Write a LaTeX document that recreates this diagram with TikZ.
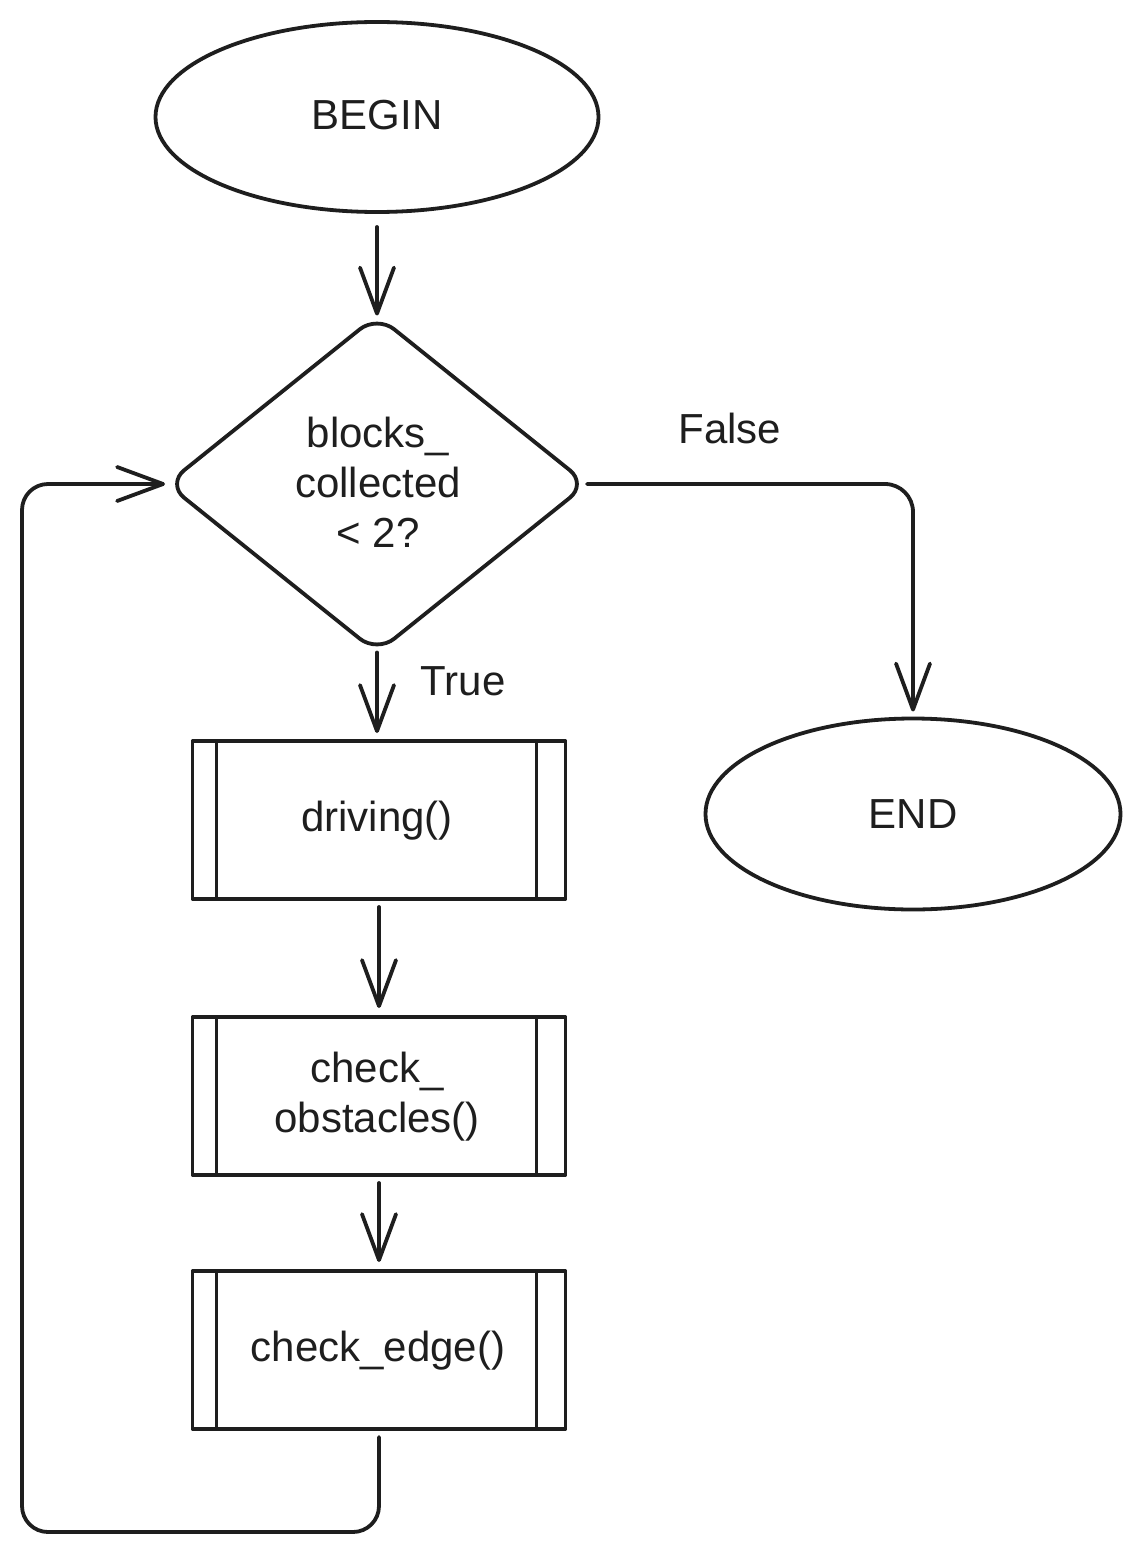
\documentclass[tikz,border=0pt]{standalone}
\usepackage{fontspec}
\setmainfont{Liberation Sans}
\usetikzlibrary{shapes.geometric,arrows.meta}
\definecolor{ink}{HTML}{1E1E1E}
\begin{document}
\begin{tikzpicture}[x=1pt,y=-1pt,
  stroke/.style={draw=ink, line width=3.8pt, line cap=round, line join=round},
  terminal/.style={stroke, ellipse, inner sep=0pt, outer sep=0pt},
  decision/.style={stroke, diamond, rounded corners=22pt, minimum width=420pt,
    minimum height=337pt, inner sep=0pt, outer sep=0pt},
  subproc/.style={stroke, rectangle, minimum width=373pt, minimum height=158pt,
    inner sep=0pt, outer sep=0pt,
    path picture={\draw[ink, line width=3.4pt]
      ([xshift=24pt]path picture bounding box.north west) --
      ([xshift=24pt]path picture bounding box.south west)
      ([xshift=-29pt]path picture bounding box.north east) --
      ([xshift=-29pt]path picture bounding box.south east);}},
  txt/.style={text=ink, font=\fontsize{42}{50}\selectfont, anchor=base, inner sep=0pt},
  flow/.style={stroke, -{Straight Barb[length=46pt,width=34pt,round]}},
]
% canvas
\useasboundingbox[fill=white] (0,0) rectangle (1140,1554);

% shapes
\node[terminal, minimum width=443pt, minimum height=190pt] (begin) at (377,117) {};
\node[decision] (cond) at (377,484) {};
\node[subproc] (drive) at (379,820) {};
\node[subproc] (obst) at (379,1096) {};
\node[subproc] (edge) at (379,1350) {};
\node[terminal, minimum width=415pt, minimum height=191pt] (end) at (913,814) {};

% texts
\node[txt] (begin-t) at (377,130) {BEGIN};
\node[txt] (cond-t) at (378,447)
  {\begin{tabular}[t]{@{}c@{}}blocks\_\\collected\\< 2?\end{tabular}};
\node[txt] (drive-t) at (377,831) {driving()};
\node[txt] (obst-t) at (377,1082)
  {\begin{tabular}[t]{@{}c@{}}check\_\\obstacles()\end{tabular}};
\node[txt] (edge-t) at (378,1361) {check\_edge()};
\node[txt] (end-t) at (913,828) {END};
\node[txt] (false-t) at (730,443) {False};
\node[txt] (true-t) at (463,695) {True};

% connectors
\coordinate (loopbl) at (22,1532);
\draw[flow, shorten <=15pt] (begin.south) -- (cond.north);
\draw[flow, shorten >=8pt] (cond.south) -- (cond.south |- drive.north);
\draw[flow, shorten <=8pt, shorten >=9pt] (drive.south) -- (obst.north);
\draw[flow, shorten <=8pt, shorten >=9pt] (obst.south) -- (edge.north);
\draw[flow, rounded corners=26pt, shorten <=8pt, shorten >=2pt]
  (edge.south) |- (loopbl) |- (cond.west);
\draw[flow, rounded corners=28pt, shorten >=7pt] (cond.east) -| (end.north);
\end{tikzpicture}
\end{document}
